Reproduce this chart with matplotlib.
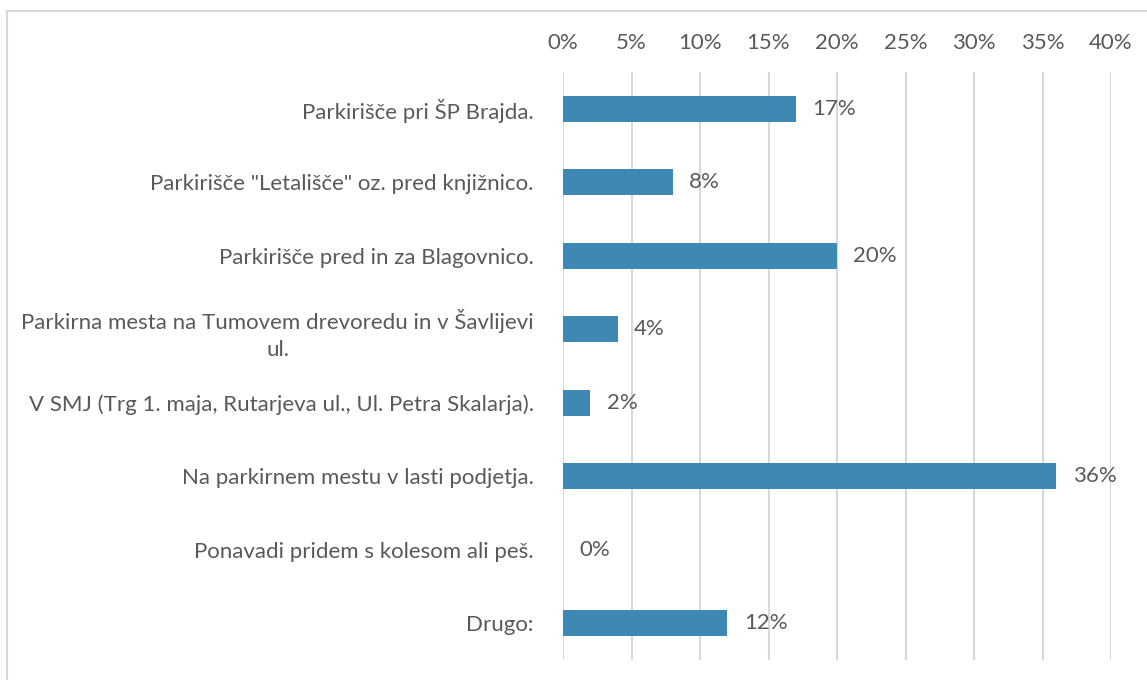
import matplotlib.pyplot as plt
from matplotlib.lines import Line2D

categories = [
    "Parkirišče pri ŠP Brajda.",
    "Parkirišče \"Letališče\" oz. pred knjižnico.",
    "Parkirišče pred in za Blagovnico.",
    "Parkirna mesta na Tumovem drevoredu in v Šavlijevi\nul.",
    "V SMJ (Trg 1. maja, Rutarjeva ul., Ul. Petra Skalarja).",
    "Na parkirnem mestu v lasti podjetja.",
    "Ponavadi pridem s kolesom ali peš.",
    "Drugo:",
]
values = [17, 8, 20, 4, 2, 36, 0, 12]
ticks = [0, 5, 10, 15, 20, 25, 30, 35, 40]

plt.rcParams['font.family'] = ['Lato', 'DejaVu Sans']
text_color = '#595959'
bar_color = '#3f88b3'
fs = 16

fig = plt.figure(figsize=(11.47, 6.8), dpi=100)
ax = fig.add_axes([563 / 1147, 1 - 660 / 680, 548 / 1147, 588 / 680])

y = list(range(len(categories)))
ax.barh(y, values, height=0.36, color=bar_color, linewidth=0, zorder=3)
for yi, v in zip(y, values):
    ax.text(v + 1.2, yi, f"{v}%", va='center', ha='left', fontsize=fs, color=text_color)

ax.set_xlim(0, 40)
ax.set_ylim(len(categories) - 0.5, -0.5)
ax.set_xticks(ticks)
ax.set_xticklabels([f"{t}%" for t in ticks], fontsize=fs, color=text_color)
ax.xaxis.tick_top()
ax.tick_params(axis='x', length=0, pad=14)
ax.set_yticks(y)
ax.set_yticklabels(categories, fontsize=fs, color=text_color, multialignment='center', linespacing=1.45)
ax.tick_params(axis='y', length=0, pad=21)
ax.grid(axis='x', color='#d9d9d9', linewidth=1.5, zorder=0)
for s in ax.spines.values():
    s.set_visible(False)

# outer frame
fig.add_artist(Line2D([6.5 / 1147, 6.5 / 1147], [0, 1 - 10.5 / 680], transform=fig.transFigure, color='#d9d9d9', linewidth=1.5))
fig.add_artist(Line2D([6.5 / 1147, 1], [1 - 10.5 / 680, 1 - 10.5 / 680], transform=fig.transFigure, color='#d9d9d9', linewidth=1.5))

fig.savefig('out.png', dpi=100)
